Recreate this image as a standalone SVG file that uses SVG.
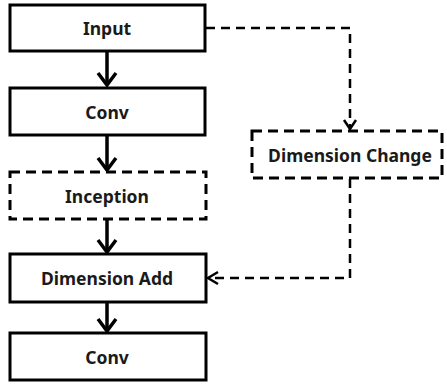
<svg xmlns="http://www.w3.org/2000/svg" width="447" height="384" viewBox="0 0 447 384">
<style>
.box{fill:#fff;stroke:#000;stroke-width:3}
.dbox{fill:#fff;stroke:#000;stroke-width:3;stroke-dasharray:10 6}
.t{font-family:"Noto Sans","DejaVu Sans",sans-serif;font-weight:bold;font-size:17.5px;fill:#1a1a1a;text-anchor:middle;dominant-baseline:central}
.s{fill:none;stroke:#000;stroke-width:3.5}
.d{fill:none;stroke:#000;stroke-width:2.5;stroke-dasharray:9 6}
.h{fill:none;stroke:#000;stroke-width:3.5;stroke-linejoin:miter}
.hd{fill:none;stroke:#000;stroke-width:2.5}
</style>
<g id="connectors">
<path class="s" d="M107 52 V85"/><path class="h" d="M98 73 L107 85 L116 73"/>
<path class="s" d="M107 136 V170"/><path class="h" d="M98 158 L107 170 L116 158"/>
<path class="s" d="M107 219 V252"/><path class="h" d="M98 240 L107 252 L116 240"/>
<path class="s" d="M107 302 V331"/><path class="h" d="M98 319 L107 331 L116 319"/>
<path class="d" d="M206 28 H350 V128"/><path class="hd" d="M344 120 L350 129 L356 120"/>
<path class="d" d="M350 179 V278 H209"/><path class="hd" d="M218 272 L208 278 L218 284"/>
</g>
<g id="input"><rect class="box" x="10" y="5" width="195" height="46"/><text class="t" x="107" y="28">Input</text></g>
<g id="conv1"><rect class="box" x="10" y="88" width="195" height="47"/><text class="t" x="107" y="112">Conv</text></g>
<g id="inception"><rect class="dbox" x="10" y="172" width="196" height="47"/><text class="t" x="107" y="196">Inception</text></g>
<g id="dimadd"><rect class="box" x="10" y="254" width="196" height="48"/><text class="t" x="107" y="278">Dimension Add</text></g>
<g id="conv2"><rect class="box" x="10" y="333" width="196" height="47"/><text class="t" x="107" y="357">Conv</text></g>
<g id="dimchange"><rect class="dbox" x="252" y="131" width="190" height="47"/><text class="t" x="350" y="155">Dimension Change</text></g>
</svg>
